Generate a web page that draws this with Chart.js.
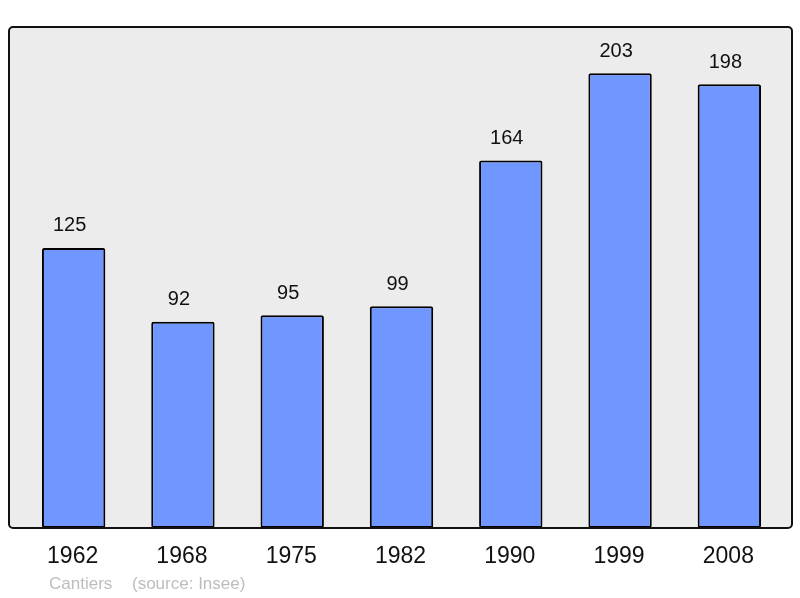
<!DOCTYPE html>
<html>
<head>
<meta charset="utf-8">
<script src="https://cdn.jsdelivr.net/npm/chart.js@4"></script>
<style>
  html, body { margin: 0; padding: 0; background: #fff; }
  #wrap { width: 800px; height: 598px; }
</style>
</head>
<body>
<div id="wrap"><canvas id="popChart"></canvas></div>
<script>
const years = ["1962", "1968", "1975", "1982", "1990", "1999", "2008"];
const population = [125, 92, 95, 99, 164, 203, 198];
const townName = "Cantiers";
const sourceNote = "(source: Insee)";

// frame, value labels, year labels and footer
const decor = {
  id: "decor",
  beforeDraw(chart) {
    const c = chart.ctx;
    c.save();
    c.beginPath();
    c.roundRect(9, 27, 783, 501, 4);
    c.fillStyle = "#ececec";
    c.fill();
    c.restore();
  },
  afterDraw(chart) {
    const c = chart.ctx;
    const x = chart.scales.x, y = chart.scales.y;
    c.save();
    c.beginPath();
    c.roundRect(9, 27, 783, 501, 4);
    c.lineWidth = 2;
    c.strokeStyle = "#111";
    c.stroke();

    c.fillStyle = "#111";
    c.textAlign = "center";
    c.textBaseline = "middle";
    c.font = "20px 'Liberation Sans', Arial, sans-serif";
    population.forEach((v, i) => {
      c.fillText(String(v), x.getPixelForValue(i) - 4, y.getPixelForValue(v) - 22);
    });

    c.font = "23px 'Liberation Sans', Arial, sans-serif";
    years.forEach((yr, i) => {
      c.fillText(yr, x.getPixelForValue(i) - 1, 557);
    });

    c.fillStyle = "#bdbdbd";
    c.textAlign = "left";
    c.font = "17px 'Liberation Sans', Arial, sans-serif";
    c.fillText(townName, 49, 584);
    c.fillText(sourceNote, 132, 584);
    c.restore();
  }
};

new Chart(document.getElementById("popChart"), {
  type: "bar",
  data: {
    labels: years,
    datasets: [{
      data: population,
      backgroundColor: "#7097ff",
      borderColor: "#000",
      borderWidth: 2,
      borderRadius: 2,
      borderSkipped: false,
      categoryPercentage: 0.58,
      barPercentage: 1
    }]
  },
  options: {
    responsive: true,
    maintainAspectRatio: false,
    animation: false,
    layout: { padding: { left: 19, right: 16, top: 27, bottom: 70 } },
    plugins: { legend: { display: false }, tooltip: { enabled: false } },
    scales: {
      x: { display: false },
      y: { display: false, min: 0, max: 223.6 }
    }
  },
  plugins: [decor]
});
</script>
</body>
</html>
